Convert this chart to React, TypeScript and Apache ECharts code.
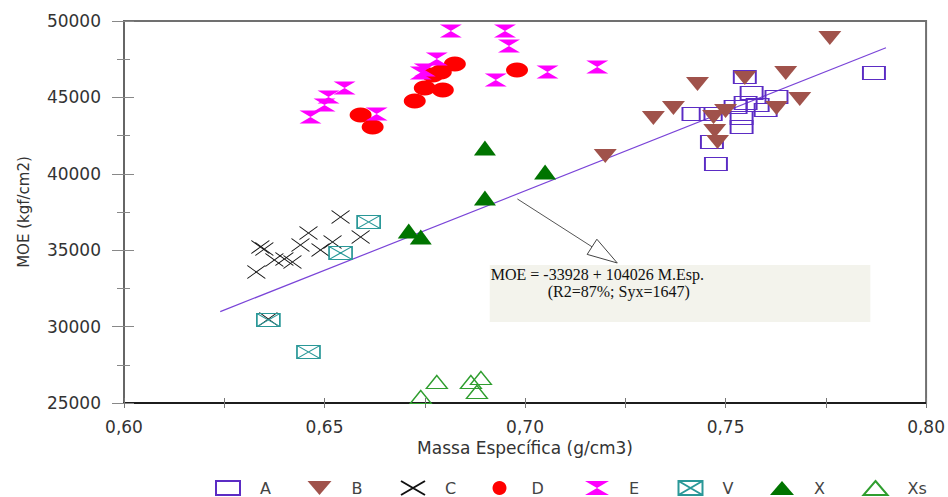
import React, { useEffect, useRef } from 'react';
import * as echarts from 'echarts';

// ---- data (Massa Específica g/cm3, MOE kgf/cm2) ----
const seriesNames = ['A', 'B', 'C', 'D', 'E', 'V', 'X', 'Xs'];

const dataA: number[][] = [
  [0.742, 43915], [0.7463, 43915], [0.7548, 46337], [0.7565, 45290], [0.7627, 45028],
  [0.760, 44177], [0.7525, 44373], [0.754, 43653], [0.754, 43064], [0.7466, 42082],
  [0.7476, 40643], [0.755, 44635], [0.758, 44504], [0.787, 46599],
];
const dataB: number[][] = [
  [0.743, 45879], [0.765, 46599], [0.7685, 44897], [0.7627, 44307], [0.7548, 46272],
  [0.750, 44112], [0.747, 43719], [0.7473, 42803], [0.748, 42082], [0.737, 44307],
  [0.732, 43653], [0.720, 41166], [0.776, 48889],
];
const dataC: number[][] = [
  [0.633, 33574], [0.634, 35210], [0.635, 35079], [0.6375, 34360], [0.640, 34425],
  [0.642, 34228], [0.644, 35341], [0.646, 36127], [0.649, 35014], [0.652, 35537],
  [0.654, 37174], [0.659, 35865], [0.636, 30498],
];
const dataD: number[][] = [
  [0.659, 43850], [0.662, 43064], [0.6725, 44766], [0.675, 45617], [0.6795, 45486],
  [0.679, 46664], [0.6825, 47188], [0.698, 46795], [0.677, 46468],
];
const dataE: number[][] = [
  [0.6465, 43719], [0.650, 44504], [0.651, 45028], [0.655, 45617], [0.663, 43915],
  [0.675, 46795], [0.678, 47515], [0.6815, 49347], [0.695, 49347], [0.696, 48366],
  [0.6927, 46140], [0.7056, 46664], [0.718, 46991], [0.674, 46599],
];
const dataV: number[][] = [
  [0.661, 36846], [0.654, 34818], [0.636, 30432], [0.646, 28338],
];
const dataX: number[][] = [
  [0.690, 41690], [0.690, 38417], [0.671, 36257], [0.674, 35865], [0.705, 40119],
];
const dataXs: number[][] = [
  [0.678, 26374], [0.674, 25393], [0.6865, 26374], [0.689, 26636], [0.688, 25720],
];
const regressionEnds: number[][] = [[0.624, 30980], [0.79, 48250]];

const equationLines = ['MOE = -33928 + 104026 M.Esp.', '(R2=87%; Syx=1647)'];
const xName = 'Massa Específica (g/cm3)';
const yName = 'MOE (kgf/cm2)';

// annotation anchors (data space)
const noteBoxCorners = [[0.6912, 34032], [0.7861, 30301]];
const arrowEnds = [[0.6981, 38352], [0.7230, 34163]];

const FONT = 'DejaVu Sans';

const symbolDefs: Record<string, any> = {
  A: { symbol: 'rect', symbolSize: [22, 13], itemStyle: { color: 'rgba(255,255,255,0)', borderColor: '#5b2cc4', borderWidth: 1.5 } },
  B: { symbol: 'path://M0,0 L10,0 L5,10 Z', symbolSize: [23, 14], itemStyle: { color: '#a0524b' } },
  C: { symbol: 'path://M0,0 L10,10 M10,0 L0,10', symbolSize: [18, 13], itemStyle: { color: 'rgba(0,0,0,0)', borderColor: '#111', borderWidth: 1 } },
  D: { symbol: 'circle', symbolSize: [22, 15], itemStyle: { color: '#ff0000' } },
  E: { symbol: 'path://M0,0 L10,0 L5,5 Z M0,10 L10,10 L5,5 Z', symbolSize: [22, 13], itemStyle: { color: '#ff00ff' } },
  V: { symbol: 'path://M0,0 L10,0 L10,10 L0,10 Z M0,0 L10,10 M10,0 L0,10', symbolSize: [23, 13], itemStyle: { color: 'rgba(255,255,255,0)', borderColor: '#2a9898', borderWidth: 1.3 } },
  X: { symbol: 'path://M5,0 L10,10 L0,10 Z', symbolSize: [22, 15], itemStyle: { color: '#007400' } },
  Xs: { symbol: 'path://M5,0 L10,10 L0,10 Z', symbolSize: [21, 13], itemStyle: { color: 'rgba(255,255,255,0)', borderColor: '#2f9e2f', borderWidth: 1.3 } },
};

const seriesData: Record<string, number[][]> = {
  A: dataA, B: dataB, C: dataC, D: dataD, E: dataE, V: dataV, X: dataX, Xs: dataXs,
};

export default function App() {
  const ref = useRef<HTMLDivElement>(null);
  useEffect(() => {
    document.body.style.margin = '0';
    const chart = echarts.init(ref.current!, null, { renderer: 'svg' });
    const labelStyle = { fontFamily: FONT, fontSize: 17, color: '#333' };
    const baseX = { type: 'value', min: 0.6, max: 0.8, interval: 0.05, splitLine: { show: false } };
    const baseY = { type: 'value', min: 25000, max: 50000, interval: 5000, splitLine: { show: false } };
    const legendLeft = 215;
    const legendStep = 92.5;
    const legends = seriesNames.map((n, i) => ({
      data: [n],
      left: legendLeft + i * legendStep, top: 480, padding: 0,
      itemWidth: 24, itemHeight: 14,
      symbolKeepAspect: false,
      textStyle: { fontFamily: FONT, fontSize: 16, color: '#444', padding: [0, 0, 0, 15] },
    }));
    const option: any = {
      animation: false,
      backgroundColor: '#fff',
      grid: { left: 124, right: 19, top: 21, bottom: 94, show: true, borderColor: '#707070', borderWidth: 2, backgroundColor: 'rgba(0,0,0,0)' },
      xAxis: [
        {
          ...baseX, position: 'bottom',
          axisLine: { lineStyle: { color: '#000', width: 1.5 } },
          axisTick: { length: 5, lineStyle: { color: '#777' } },
          minorTick: { show: true, splitNumber: 2, length: 5, lineStyle: { color: '#777' } },
          axisLabel: { ...labelStyle, margin: 15, formatter: (v: number) => v.toFixed(2).replace('.', ',') },
          name: xName, nameLocation: 'middle', nameGap: 36,
          nameTextStyle: { fontFamily: FONT, fontSize: 17, color: '#333' },
        },
        {
          ...baseX, position: 'bottom',
          axisLine: { show: false },
          axisTick: { inside: true, length: 5, lineStyle: { color: '#777' } },
          minorTick: { show: true, splitNumber: 2, length: 5, lineStyle: { color: '#777' } },
          axisLabel: { show: false },
        },
      ],
      yAxis: [
        {
          ...baseY, position: 'left',
          axisLine: { lineStyle: { color: '#666', width: 2 } },
          axisTick: { length: 12, lineStyle: { color: '#888' } },
          minorTick: { show: true, splitNumber: 2, length: 7, lineStyle: { color: '#888' } },
          axisLabel: { ...labelStyle, margin: 23, formatter: (v: number) => String(v) },
          name: yName, nameLocation: 'middle', nameGap: 93,
          nameTextStyle: { fontFamily: FONT, fontSize: 15, color: '#333' },
        },
        {
          ...baseY, position: 'left',
          axisLine: { show: false },
          axisTick: { inside: true, length: 10, lineStyle: { color: '#888' } },
          minorTick: { show: true, splitNumber: 2, length: 6, lineStyle: { color: '#888' } },
          axisLabel: { show: false },
        },
      ],
      legend: legends,
      series: [
        {
          type: 'line', name: 'reg', data: regressionEnds, symbol: 'none', silent: true,
          lineStyle: { color: '#7a44d8', width: 1.2 }, z: 1,
        },
        ...seriesNames.map((n) => ({
          type: 'scatter', name: n, data: seriesData[n],
          symbol: symbolDefs[n].symbol, symbolSize: symbolDefs[n].symbolSize,
          symbolKeepAspect: false,
          itemStyle: { ...symbolDefs[n].itemStyle, opacity: 1 }, z: 2,
        })),
      ],
    };
    chart.setOption(option);

    const px = (v: number[]) => chart.convertToPixel({ xAxisIndex: 0, yAxisIndex: 0 }, v) as number[];
    const b0 = px(noteBoxCorners[0]);
    const b1 = px(noteBoxCorners[1]);
    const a0 = px(arrowEnds[0]);
    const a1 = px(arrowEnds[1]);
    const dx = a1[0] - a0[0];
    const dy = a1[1] - a0[1];
    const len = Math.hypot(dx, dy);
    const ux = dx / len, uy = dy / len;
    const headLen = 30, headHalf = 9;
    const bc = [a1[0] - ux * headLen, a1[1] - uy * headLen];
    const v1 = [bc[0] - uy * headHalf, bc[1] + ux * headHalf];
    const v2 = [bc[0] + uy * headHalf, bc[1] - ux * headHalf];

    chart.setOption({
      graphic: [
        {
          type: 'rect', z: 100,
          shape: { x: b0[0], y: b0[1], width: b1[0] - b0[0], height: b1[1] - b0[1] },
          style: { fill: '#f3f3ec' },
        },
        {
          type: 'text', z: 101, x: b0[0] + 1, y: b0[1] + 10,
          style: { text: equationLines[0], font: '16px "Liberation Serif"', fill: '#111', verticalAlign: 'middle' },
        },
        {
          type: 'text', z: 101, x: b0[0] + 58, y: b0[1] + 27,
          style: { text: equationLines[1], font: '16px "Liberation Serif"', fill: '#111', verticalAlign: 'middle' },
        },
        {
          type: 'line', z: 100,
          shape: { x1: a0[0], y1: a0[1], x2: bc[0], y2: bc[1] },
          style: { stroke: '#555', lineWidth: 1 },
        },
        {
          type: 'polygon', z: 100,
          shape: { points: [a1, v1, v2] },
          style: { fill: '#fff', stroke: '#444', lineWidth: 1 },
        },
      ],
    });
    return () => chart.dispose();
  }, []);
  return <div ref={ref} style={{ width: 948, height: 497 }} />;
}
